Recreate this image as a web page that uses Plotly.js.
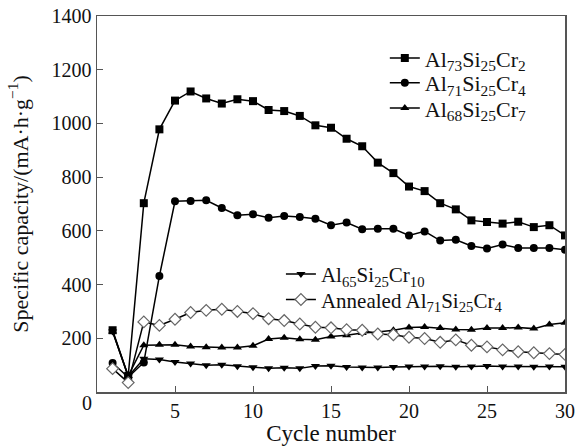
<!DOCTYPE html>
<html>
<head>
<meta charset="utf-8">
<script src="https://cdn.plot.ly/plotly-3.0.1.min.js"></script>
<style>html,body{margin:0;padding:0;background:#fff;}#chart{width:577px;height:447px;}</style>
</head>
<body>
<div id="chart"></div>
<script>
var cycles = [1,2,3,4,5,6,7,8,9,10,11,12,13,14,15,16,17,18,19,20,21,22,23,24,25,26,27,28,29,30];
var al73 = [230,60,703,978,1085,1119,1093,1074,1090,1083,1050,1046,1028,993,984,943,915,854,815,765,748,703,680,639,633,627,634,614,621,583];
var al71 = [108,55,110,432,710,711,714,685,658,662,649,655,652,645,621,631,606,608,608,583,598,564,567,544,534,549,536,536,536,530];
var al68 = [225,60,174,176,176,169,167,166,166,172,197,202,196,195,207,211,220,223,230,240,242,238,233,232,238,238,240,236,251,258];
var al65 = [225,58,124,121,112,106,100,101,96,92,88,90,88,97,98,93,91,91,93,95,95,96,94,95,97,95,95,94,95,94];
var annealed = [87,35,261,248,271,296,304,308,300,292,273,266,253,241,239,232,230,216,213,204,199,185,194,174,168,157,150,146,143,140];
var names = ['Al<sub>73</sub>Si<sub>25</sub>Cr<sub>2</sub>','Al<sub>71</sub>Si<sub>25</sub>Cr<sub>4</sub>','Al<sub>68</sub>Si<sub>25</sub>Cr<sub>7</sub>','Al<sub>65</sub>Si<sub>25</sub>Cr<sub>10</sub>','Annealed Al<sub>71</sub>Si<sub>25</sub>Cr<sub>4</sub>'];
var xTicks = [5,10,15,20,25,30];
var yTicks = [200,400,600,800,1000,1200,1400];

var font = 'Liberation Serif, Times New Roman, serif';
function tr(y, name, sym, size, leg, extra) {
  var t = {x: cycles, y: y, name: name, mode: 'lines+markers', type: 'scatter',
    line: {color: '#000', width: 1.5},
    marker: {symbol: sym, size: size, color: '#000', line: {width: 0}},
    legend: leg};
  if (extra) t.marker = extra;
  return t;
}
var data = [
  tr(al73, names[0], 'square', 8, 'legend'),
  tr(al71, names[1], 'circle', 8, 'legend2'),
  tr(al68, names[2], 'triangle-up', 8, 'legend3'),
  tr(al65, names[3], 'triangle-down', 8, 'legend4'),
  tr(annealed, names[4], 'diamond', 9, 'legend5', {symbol: 'diamond', size: 9, color: '#fff', line: {color: '#666', width: 1.2}})
];
function leg(x, y, fs) {
  return {x: x, y: y, xanchor: 'left', yanchor: 'middle', bgcolor: 'rgba(0,0,0,0)', borderwidth: 0,
    font: {family: font, size: fs, color: '#111'}, itemwidth: 30};
}
var layout = {
  width: 577, height: 447,
  margin: {l: 97, r: 12, t: 16, b: 55},
  paper_bgcolor: '#fff', plot_bgcolor: '#fff',
  font: {family: font, size: 20, color: '#111'},
  showlegend: true,
  xaxis: {range: [0, 30], tickvals: xTicks, ticktext: xTicks.map(String), ticks: 'inside', ticklen: 6, tickcolor: '#555', tickwidth: 1,
    showline: true, linecolor: '#555', linewidth: 1.5, mirror: true, showgrid: false, zeroline: false,
    tickfont: {family: font, size: 20, color: '#111'},
    title: {text: 'Cycle number', font: {family: font, size: 23, color: '#111'}, standoff: 2}},
  yaxis: {range: [0, 1400], tickvals: yTicks, ticktext: yTicks.map(String), ticks: 'inside', ticklen: 6, tickcolor: '#555', tickwidth: 1,
    showline: true, linecolor: '#555', linewidth: 1.5, mirror: true, showgrid: false, zeroline: false,
    tickfont: {family: font, size: 20, color: '#111'},
    title: {text: 'Specific capacity/(mA·h·g<sup>−1</sup>)', font: {family: font, size: 22, color: '#111'}, standoff: 17}},
  legend: leg(0.615, 0.888, 22),
  legend2: leg(0.615, 0.822, 22),
  legend3: leg(0.615, 0.755, 22),
  legend4: leg(0.393, 0.313, 21),
  legend5: leg(0.393, 0.245, 21),
  annotations: [{text: '0', xref: 'paper', yref: 'paper', x: -0.021, y: -0.029, xanchor: 'center', yanchor: 'middle', showarrow: false,
    font: {family: font, size: 20, color: '#111'}}]
};
Plotly.newPlot('chart', data, layout, {displayModeBar: false, staticPlot: true});
</script>
</body>
</html>
